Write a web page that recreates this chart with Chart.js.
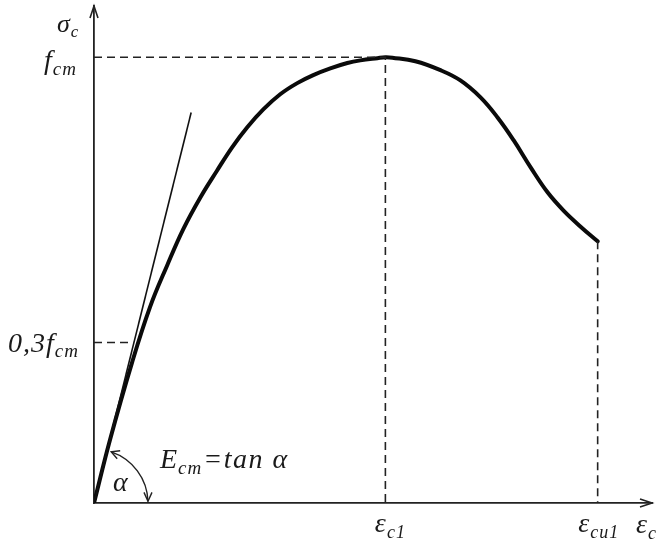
<!DOCTYPE html>
<html>
<head>
<meta charset="utf-8">
<script src="https://cdn.jsdelivr.net/npm/chart.js@4"></script>
<style>
  html, body { margin: 0; padding: 0; background: #fff; }
  #wrap { width: 657px; height: 543px; }
</style>
</head>
<body>
<div id="wrap"><canvas id="sigmaEpsChart" width="657" height="543"></canvas></div>
<script>
// strain (relative, eps_c1 = 2.0) and stress (relative, f_cm = 1.0)
const strain = [0, 0.11, 0.261, 0.385, 0.502, 0.612, 0.729, 0.845, 0.948, 1.052, 1.162, 1.278, 1.395, 1.505, 1.622, 1.739, 1.828, 1.945, 2.0, 2.048, 2.206, 2.378, 2.515, 2.653, 2.77, 2.88, 2.997, 3.113, 3.223, 3.34, 3.457];
const stress = [0, 0.142, 0.315, 0.44, 0.533, 0.614, 0.685, 0.746, 0.798, 0.843, 0.883, 0.917, 0.942, 0.96, 0.975, 0.987, 0.993, 0.998, 1.0, 0.999, 0.991, 0.971, 0.948, 0.91, 0.865, 0.814, 0.753, 0.697, 0.656, 0.62, 0.587];
const tangentX = [0, 0.667];
const tangentY = [0, 0.876];
const epsC1 = 2.0;
const epsCu1 = 3.457;
const fcm = 1.0;
const lowLevel = 0.36;   // drawn "0,3 fcm" level
const lowLevelX = 0.27;
const endStress = 0.587;

const curvePts = strain.map((x, i) => ({ x: x, y: stress[i] }));
const tangentPts = tangentX.map((x, i) => ({ x: x, y: tangentY[i] }));

const dashed = {
  borderColor: '#222', borderWidth: 1.6, borderDash: [8, 5],
  pointRadius: 0, fill: false, tension: 0
};

const FONT = '"Liberation Serif", "DejaVu Serif", serif';

function subText(ctx, main, sub, x, y, size, subSize, align) {
  ctx.letterSpacing = '1px';
  ctx.font = 'italic ' + size + 'px ' + FONT;
  const w1 = ctx.measureText(main).width;
  ctx.font = 'italic ' + subSize + 'px ' + FONT;
  const w2 = ctx.measureText(sub).width;
  let x0 = x;
  if (align === 'right') x0 = x - w1 - w2;
  if (align === 'center') x0 = x - (w1 + w2) / 2;
  ctx.textAlign = 'left';
  ctx.font = 'italic ' + size + 'px ' + FONT;
  ctx.fillText(main, x0, y);
  ctx.font = 'italic ' + subSize + 'px ' + FONT;
  ctx.fillText(sub, x0 + w1, y + size * 0.2);
  return x0 + w1 + w2;
}

const annotations = {
  id: 'annotations',
  afterDraw(chart) {
    const ctx = chart.ctx;
    const xs = chart.scales.x, ys = chart.scales.y;
    const ox = xs.getPixelForValue(0), oy = ys.getPixelForValue(0);
    const right = chart.chartArea.right, top = chart.chartArea.top;
    ctx.save();
    ctx.strokeStyle = '#222';
    ctx.fillStyle = '#222';
    ctx.lineWidth = 1.6;
    // axis arrow heads
    ctx.beginPath();
    ctx.moveTo(right - 12, oy - 4); ctx.lineTo(right, oy); ctx.lineTo(right - 12, oy + 4);
    ctx.stroke();
    ctx.beginPath();
    ctx.moveTo(ox - 4, top + 12); ctx.lineTo(ox, top); ctx.lineTo(ox + 4, top + 12);
    ctx.stroke();

    // angle arc alpha
    const r = 54;
    const a0 = -Math.atan2(tangentY[1] * (oy - ys.getPixelForValue(1)), tangentX[1] * (xs.getPixelForValue(1) - ox));
    ctx.lineWidth = 1.4;
    ctx.beginPath();
    ctx.arc(ox, oy, r, a0 + 0.08, -0.03);
    ctx.stroke();
    const ex = ox + r * Math.cos(-0.03), ey = oy + r * Math.sin(-0.03);
    ctx.beginPath();
    ctx.moveTo(ex - 4, ey - 9); ctx.lineTo(ex, ey); ctx.lineTo(ex + 4, ey - 9);
    ctx.stroke();
    const sx = ox + r * Math.cos(a0 + 0.08), sy = oy + r * Math.sin(a0 + 0.08);
    ctx.beginPath();
    ctx.moveTo(sx + 9, sy - 1); ctx.lineTo(sx, sy); ctx.lineTo(sx + 6, sy + 7);
    ctx.stroke();

    // texts
    ctx.fillStyle = '#1a1a1a';
    ctx.textBaseline = 'alphabetic';
    subText(ctx, 'σ', 'c', ox - 37, top + 26, 26, 17, 'left');
    subText(ctx, 'f', 'cm', ox - 17, ys.getPixelForValue(fcm) + 12, 28, 19, 'right');
    subText(ctx, '0,3f', 'cm', ox - 15, ys.getPixelForValue(lowLevel) + 9, 28, 19, 'right');
    subText(ctx, 'ε', 'c1', xs.getPixelForValue(epsC1) + 5, oy + 29, 28, 18, 'center');
    subText(ctx, 'ε', 'cu1', xs.getPixelForValue(epsCu1) + 1, oy + 29, 28, 18, 'center');
    subText(ctx, 'ε', 'c', right - 16, oy + 30, 28, 18, 'left');
    ctx.font = 'italic 28px ' + FONT;
    ctx.fillText('α', ox + 19, oy - 12);
    const after = subText(ctx, 'E', 'cm', ox + 66, oy - 35, 28, 19, 'left');
    ctx.font = 'italic 28px ' + FONT;
    ctx.letterSpacing = '1.5px';
    ctx.fillText('=tan α', after + 1, oy - 35);
    ctx.restore();
  }
};

new Chart(document.getElementById('sigmaEpsChart').getContext('2d'), {
  type: 'scatter',
  data: {
    datasets: [
      Object.assign({ data: [{ x: 0, y: fcm }, { x: epsC1, y: fcm }, { x: epsC1, y: 0 }], showLine: true }, dashed),
      Object.assign({ data: [{ x: epsCu1, y: endStress }, { x: epsCu1, y: 0 }], showLine: true }, dashed),
      Object.assign({ data: [{ x: 0, y: lowLevel }, { x: lowLevelX, y: lowLevel }], showLine: true }, dashed),
      {
        data: tangentPts, showLine: true, borderColor: '#111', borderWidth: 1.6,
        pointRadius: 0, fill: false, tension: 0
      },
      {
        data: curvePts, showLine: true, borderColor: '#0a0a0a', borderWidth: 4,
        pointRadius: 0, fill: false, tension: 0.4,
        borderCapStyle: 'round', borderJoinStyle: 'round'
      }
    ]
  },
  options: {
    responsive: false,
    animation: false,
    events: [],
    layout: { padding: { left: 86, top: 6, right: 5, bottom: 32 } },
    plugins: { legend: { display: false }, tooltip: { enabled: false } },
    scales: {
      x: {
        type: 'linear', min: 0, max: 3.83,
        grid: { display: false },
        border: { display: true, color: '#222', width: 1.8 },
        ticks: { display: false }
      },
      y: {
        type: 'linear', min: 0, max: 1.115,
        grid: { display: false },
        border: { display: true, color: '#222', width: 1.8 },
        ticks: { display: false }
      }
    }
  },
  plugins: [annotations]
});
</script>
</body>
</html>
